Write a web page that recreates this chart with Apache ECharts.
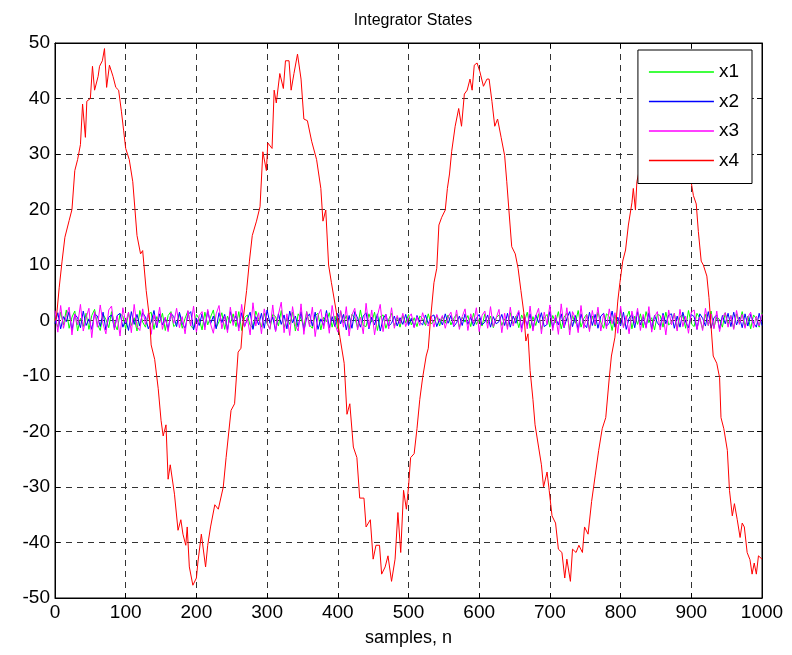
<!DOCTYPE html>
<html>
<head>
<meta charset="utf-8">
<script src="https://cdn.jsdelivr.net/npm/echarts@6/dist/echarts.min.js"></script>
<style>
html,body{margin:0;padding:0;background:#fff;}
#chart{width:792px;height:655px;}
</style>
</head>
<body>
<div id="chart"></div>
<script>
// ---- data ----
const titleText = 'Integrator States';
const xName = 'samples, n';
const seriesNames = ['x1', 'x2', 'x3', 'x4'];
const seriesColors = ['#00ff00', '#0000ff', '#ff00ff', '#ff0000'];
const noiseStep = 4; // x1..x3 read every 4 samples

const x1Values = [
0.3,-1.2,1.5,-0.8,1.9,-1.4,0.6,1.7,-1.9,0.4,-1.1,1.3,-1.6,0.9,2.0,-0.7,-1.8,1.1,0.2,-1.3,
1.6,-0.5,-1.7,1.2,0.8,-1.5,1.4,-0.9,0.5,-1.9,1.8,-0.3,-1.2,1.0,1.5,-1.6,0.7,-0.4,1.3,-1.8,
0.9,1.6,-1.1,-0.6,1.2,-1.4,0.4,1.7,-1.0,-1.5,1.1,0.3,-1.7,1.5,-0.8,0.6,1.9,-1.3,-0.2,1.4,
-1.6,0.8,-0.5,1.2,-1.1,1.6,-1.8,0.5,1.0,-0.9,-1.4,1.7,0.2,-1.2,1.3,-0.6,-1.5,1.1,0.7,-1.0,
1.8,-1.3,0.4,-0.7,1.5,-1.9,1.2,0.3,-1.1,1.6,-0.8,-1.4,0.9,1.3,-1.7,0.6,-0.2,1.4,-1.2,0.8,
-1.5,1.7,-0.4,0.9,-1.6,1.1,0.5,-1.3,1.9,-0.9,-1.1,1.2,-0.3,1.5,-1.8,0.7,1.0,-1.4,0.2,1.3,
-1.0,0.6,-1.2,0.9,-0.4,1.1,-0.8,0.5,-1.1,0.8,0.3,-0.9,1.2,-0.6,-0.2,0.9,-1.0,0.7,-0.5,1.0,
-0.8,0.4,1.1,-1.2,0.6,-0.3,0.9,-1.1,1.3,-0.7,0.2,-1.0,1.2,-0.5,0.8,-1.3,0.5,1.0,-0.9,0.3,
-1.1,1.4,-0.6,0.8,-1.3,1.0,-0.2,1.5,-1.4,0.7,-0.9,1.2,-1.6,0.5,1.1,-1.2,0.9,-0.4,1.6,-1.5,
0.6,1.3,-1.7,0.9,-0.5,1.8,-1.2,0.4,1.1,-1.6,0.8,-1.0,1.5,-0.3,-1.4,1.2,0.7,-1.8,1.0,-0.6,
1.4,-1.1,0.3,1.7,-1.5,0.8,-0.7,1.2,-1.3,1.6,-0.4,0.5,-1.7,1.1,0.9,-1.2,1.5,-0.8,-0.3,1.3,
-1.6,0.7,1.0,-1.4,1.8,-0.6,-1.1,1.3,0.4,-1.5,1.1,-0.9,1.7,-1.3,0.6,0.2,-1.2,1.4,-0.7,0.9,
-1.4,1.2,-0.5,1.6,-1.1,0.8,-1.5,1.0,0.3,-1.2,1.4
];

const x2Values = [
-0.6,1.4,-1.5,0.7,-0.2,1.6,-1.8,1.1,0.5,-1.3,1.7,-0.9,0.3,-1.6,1.2,0.8,-1.1,1.5,-1.7,0.6,
1.0,-1.4,0.9,1.3,-1.2,0.2,-1.8,1.6,-0.7,1.1,-1.0,1.4,0.6,-1.5,-0.3,1.8,-1.3,1.2,-0.8,0.5,
-1.6,1.3,0.7,-1.1,1.5,-0.5,-1.4,1.0,1.6,-1.7,0.4,-0.9,1.2,-1.2,1.7,-0.6,0.8,-1.5,1.4,-0.4,
1.1,-1.7,1.6,-0.3,0.9,-1.3,1.4,-1.1,0.2,1.5,-1.6,0.7,-0.8,1.3,-1.4,1.9,-0.5,0.6,-1.9,1.2,
-0.7,1.0,-1.5,1.7,-0.4,0.8,-1.2,1.6,-1.8,0.5,1.2,-1.0,1.5,-1.6,0.3,-0.9,1.8,-1.3,0.7,-1.1,
1.3,-0.6,1.1,-1.7,0.9,-1.4,1.6,0.4,-1.2,0.8,1.4,-1.5,0.6,-0.8,1.2,-1.9,0.3,1.1,-1.0,-0.5,
0.8,-1.0,0.5,-0.7,1.1,-0.9,0.4,-1.2,0.9,-0.3,-0.8,1.0,-0.6,0.7,1.0,-1.1,0.3,-0.8,1.2,-0.5,
0.9,-1.1,-0.4,0.8,-0.9,1.2,-0.7,0.6,-1.0,0.4,1.1,-0.8,-0.3,1.0,-1.2,0.7,-0.6,-0.2,1.1,-0.9,
1.3,-1.2,0.8,-0.5,1.5,-1.4,0.6,-0.9,1.2,-1.6,1.0,-0.4,1.4,-1.1,-0.7,1.6,-1.3,0.5,-0.8,1.2,
-1.3,0.4,1.6,-1.1,0.9,-1.7,1.2,-0.6,-1.3,1.5,-0.9,1.1,-1.4,0.8,1.3,-1.0,-0.5,1.7,-1.2,0.6,
-1.0,1.5,-1.6,0.4,1.1,-1.3,1.6,-0.8,0.7,-1.2,1.4,-1.5,0.9,-0.4,-1.1,1.3,-0.6,1.0,1.2,-1.4,
0.8,-1.2,1.5,-0.3,-1.3,1.1,0.7,-1.6,1.2,0.4,-1.0,1.6,-1.4,0.5,1.0,-1.5,0.9,-0.6,1.3,-1.1,
1.5,-0.8,0.6,-1.3,1.2,-1.0,1.1,-0.4,-1.2,1.3,-0.9
];

const x3Values = [
1.8,-2.1,2.7,-1.4,0.9,2.4,-2.6,1.2,-0.8,2.9,-1.9,0.5,2.2,-3.1,1.6,-1.2,2.8,-0.6,-2.4,1.9,
2.6,-1.7,0.8,-2.8,2.3,-0.4,1.5,-2.2,2.9,-1.1,-1.8,2.1,-0.7,1.3,-2.5,1.0,-0.9,2.4,-1.6,0.6,
-2.0,1.4,-0.5,2.2,-1.3,0.7,-2.4,1.8,-1.0,2.6,-2.1,0.9,1.6,-1.7,2.0,-0.6,-2.3,1.2,2.7,-1.5,
0.8,-2.2,2.4,-0.9,1.7,-1.9,2.9,-1.2,0.5,-2.6,3.2,-1.0,1.4,-2.4,2.1,-0.3,-1.6,2.8,-2.0,1.1,
3.3,-2.2,1.2,-2.7,2.5,-0.8,-1.9,3.0,-2.5,1.6,-1.1,2.4,-2.9,0.9,2.0,-1.5,1.3,-2.3,2.7,-0.7,
-2.1,1.8,-1.2,2.5,-2.8,1.0,2.2,-1.7,0.6,-2.4,3.1,-1.3,1.9,-2.6,0.8,2.9,-2.0,1.1,-1.5,2.3,
-1.4,0.9,-0.6,1.3,-1.1,0.5,1.2,-1.3,0.7,-0.9,1.4,-0.4,-1.0,0.8,-1.2,1.1,-0.3,0.9,-1.4,0.6,
1.5,-1.0,1.9,-1.6,0.7,2.1,-1.8,1.2,-0.5,2.3,-2.0,0.9,1.7,-1.4,2.5,-1.1,0.4,2.0,-2.2,1.3,
-1.6,2.4,-1.0,0.6,1.8,-2.1,1.1,-1.5,2.6,-1.9,0.8,2.2,-2.4,1.5,-0.7,2.8,-1.8,1.0,-2.5,3.0,
-1.2,2.3,-2.6,1.6,0.4,-2.2,2.7,-1.4,1.0,-2.0,1.8,-0.8,2.4,-1.9,1.2,-1.5,2.1,-0.6,1.4,-2.3,
2.6,-1.3,0.9,-2.4,1.7,-0.5,2.2,-1.8,1.1,-1.4,2.5,-2.1,0.7,1.6,-1.7,1.0,-2.6,1.9,-0.8,1.3,
-1.9,2.0,-1.1,0.8,-2.3,1.5,1.9,-1.6,0.6,-1.8,2.2,-0.9,1.2,-1.5,1.7,-2.0,0.5,1.4,-1.2,0.9,
-1.6,1.8,-0.7,1.1,-1.4,0.6,1.5,-1.3,0.8,-1.0,1.2
];

const x4Samples = [
0,2,6,10,14,20,24,28,32,36,39,43,45,50,53,56,61,63,67,70,73,77,82,86,90,94,97,100,105,110,
116,121,124,129,134,136,141,146,150,153,157,160,163,169,174,178,181,185,187,190,195,200,202,207,213,216,220,226,231,238,
242,249,254,259,263,266,271,275,279,285,290,294,299,301,307,310,313,318,323,326,331,334,338,343,348,352,357,363,370,376,
379,383,387,391,398,403,409,413,417,422,427,431,437,440,446,450,454,459,462,467,471,476,481,485,489,493,497,500,503,508,
512,516,520,525,528,531,536,540,543,547,552,555,558,561,566,571,575,579,583,587,590,593,597,601,606,611,614,618,622,626,
631,636,639,642,646,651,655,659,663,666,669,672,676,679,684,688,691,696,699,703,708,712,717,721,724,729,732,737,741,746,
749,754,759,764,769,774,779,784,787,792,796,799,803,807,811,816,818,821,823,828,834,840,846,852,858,864,870,876,882,888,
894,900,903,907,910,914,917,922,925,928,931,936,940,942,946,951,954,958,961,965,969,972,975,979,983,986,989,992,995,1000
];
const x4Values = [
0,0.5,6,10.7,15,18,20,27,29,31.7,39,33,39.5,40,45.8,41.5,44,45.8,46.8,49,42,46,44,42,41.5,37.6,34.3,31,29,25,
15.3,12,12.6,5.4,0,-4.4,-7,-12.3,-18,-20.8,-18.8,-28.6,-26,-31.3,-37.8,-35.9,-38.5,-40.5,-37.2,-44.4,-47.7,-46.4,-43.7,-38.5,-44.4,-40.5,-37.2,-33.2,-34,-30,
-24.7,-16.2,-15,-5.7,-5,0,5.4,10.7,15.3,17.9,20.5,30.4,27,32,31,41.5,39.2,44.5,41.8,46.8,46.8,41.5,44.5,48,43.5,36.3,36,32.3,29,23.8,
17.9,19.9,10,6.8,1.5,-3,-7.7,-16.9,-15,-22.8,-24.7,-32,-32,-37.2,-35.9,-43,-40.5,-40.5,-45.7,-44.4,-42.4,-47,-43,-34.6,-41.8,-30.6,-34,-30,-24.7,-24,
-19.5,-14.2,-10.3,-6.4,-5,0,6.8,9.4,17.2,18.6,19.9,23.8,26.4,30.4,35,38.2,35,40.8,41.5,43.5,41.5,46,46.4,44.8,42.2,43.5,43.5,39.5,35,36.3,
33,29.7,25,19.9,13.3,12,9.4,5.4,1.5,-3.7,-2.4,-9,-14.2,-18.8,-22.8,-26,-30,-27.3,-30.6,-35.2,-36.5,-41.2,-41.8,-46.4,-43,-47,-41.2,-41.8,-40.5,-41.8,
-37.2,-38.5,-32.6,-28,-23.4,-19.5,-17.5,-10.3,-6.4,-3,3.5,6.8,10.7,12.7,17.2,21.2,23.8,19.9,25,28,33,37,41,44,43,46,45,42,40,36,
30,24.8,22.5,21,16,10.7,10,8,4.1,-1.1,-6.4,-7.7,-10.3,-17.5,-19.5,-23.4,-30.6,-35.2,-33,-35.9,-39.1,-36.5,-37.2,-41.8,-43.1,-45.7,-43.7,-45.7,-42.4,-43
];

const xMin = 0, xMax = 1000, xInterval = 100;
const yMin = -50, yMax = 50, yInterval = 10;

// ---- chart ----
const FONT = '"Liberation Sans", Arial, Helvetica, sans-serif';
const chart = echarts.init(document.getElementById('chart'), null, {renderer: 'canvas'});

function noiseData(vals) { return vals.map((v, i) => [i * noiseStep, v]); }
const seriesData = [
  noiseData(x1Values),
  noiseData(x2Values),
  noiseData(x3Values),
  x4Samples.map((s, i) => [s, x4Values[i]])
];

const gridLine = {show: true, lineStyle: {type: [6, 5], color: '#333', width: 1}};
const tickStyle = {show: true, inside: true, length: 5, lineStyle: {color: '#000', width: 1}};
const plainLabel = v => String(v);

const option = {
  animation: false,
  backgroundColor: '#fff',
  title: {
    text: titleText, left: 408, top: 8, textAlign: 'center',
    textStyle: {fontFamily: '"Liberation Sans Narrow", ' + FONT, fontSize: 16, fontWeight: 'normal', color: '#000'}
  },
  grid: {left: 55, right: 30, top: 43, bottom: 57, show: true, borderColor: '#000', borderWidth: 1, backgroundColor: 'transparent'},
  legend: {
    orient: 'vertical', right: 40, top: 50, z: 20,
    backgroundColor: '#fff', borderColor: '#000', borderWidth: 1, borderRadius: 0,
    padding: [12, 13, 13, 11], itemGap: 9.5, itemWidth: 65, itemHeight: 1.4,
    icon: 'rect',
    textStyle: {fontFamily: FONT, fontSize: 19, color: '#000', lineHeight: 20},
    data: seriesNames
  },
  xAxis: [{
    type: 'value', min: xMin, max: xMax, interval: xInterval, position: 'bottom',
    name: xName, nameLocation: 'middle', nameGap: 31,
    nameTextStyle: {fontFamily: FONT, fontSize: 18, color: '#000'},
    axisLine: {show: true, onZero: false, lineStyle: {color: '#000', width: 1}},
    axisTick: tickStyle,
    axisLabel: {color: '#000', fontFamily: FONT, fontSize: 19, margin: 5, formatter: plainLabel},
    splitLine: gridLine
  }, {
    type: 'value', min: xMin, max: xMax, interval: xInterval, position: 'top',
    axisLine: {show: true, onZero: false, lineStyle: {color: '#000', width: 1}},
    axisTick: tickStyle, axisLabel: {show: false}, splitLine: {show: false}
  }],
  yAxis: [{
    type: 'value', min: yMin, max: yMax, interval: yInterval, position: 'left',
    axisLine: {show: true, onZero: false, lineStyle: {color: '#000', width: 1}},
    axisTick: tickStyle,
    axisLabel: {color: '#000', fontFamily: FONT, fontSize: 19, margin: 5, formatter: plainLabel},
    splitLine: gridLine
  }, {
    type: 'value', min: yMin, max: yMax, interval: yInterval, position: 'right',
    axisLine: {show: true, onZero: false, lineStyle: {color: '#000', width: 1}},
    axisTick: tickStyle, axisLabel: {show: false}, splitLine: {show: false}
  }],
  series: seriesNames.map((n, k) => ({
    name: n, type: 'line', data: seriesData[k],
    xAxisIndex: 0, yAxisIndex: 0,
    symbol: 'none', showSymbol: false,
    color: seriesColors[k],
    lineStyle: {color: seriesColors[k], width: 1},
    z: 2,
    zlevel: 0
  }))
};
chart.setOption(option);
</script>
</body>
</html>
